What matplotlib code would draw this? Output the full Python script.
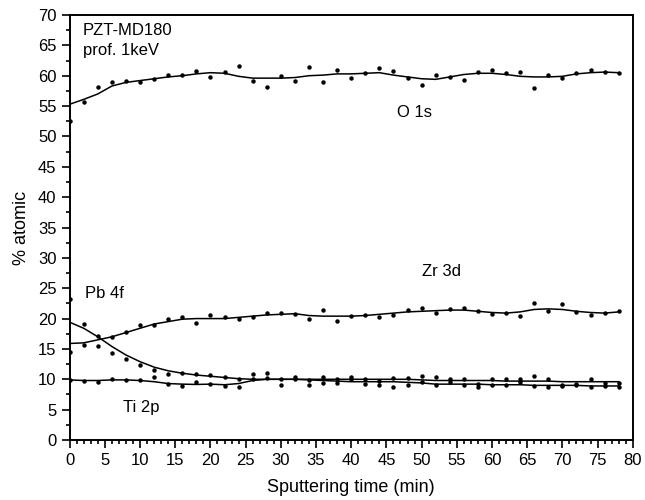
import numpy as np
import matplotlib
matplotlib.use("Agg")
import matplotlib.pyplot as plt
from matplotlib.ticker import MultipleLocator

plt.rcParams['font.family'] = ['Liberation Sans', 'DejaVu Sans']

# sputtering time (min), one measurement every 2 min
time_min = list(range(0, 80, 2))

# measured points
o1s_pts = [52.5, 55.7, 58.1, 59.0, 59.1, 58.9, 59.4, 60.1, 60.1, 60.7,
           59.8, 60.6, 61.6, 59.1, 58.2, 59.9, 59.1, 61.5, 59.0, 60.9,
           59.6, 60.4, 61.2, 60.8, 59.6, 58.5, 60.1, 59.8, 59.3, 60.6,
           60.9, 60.5, 60.6, 58.0, 60.1, 59.6, 60.4, 60.9, 60.6, 60.4]
zr3d_pts = [14.5, 15.6, 17.1, 17.0, 17.8, 18.9, 19.0, 19.9, 20.3, 19.2,
            20.6, 20.2, 19.9, 20.2, 21.0, 21.0, 20.8, 19.9, 21.4, 19.6,
            20.4, 20.6, 20.3, 20.6, 21.4, 21.7, 20.9, 21.6, 21.8, 21.2,
            20.8, 20.9, 20.4, 22.6, 21.3, 22.4, 21.1, 20.6, 21.0, 21.3]
pb4f_pts = [23.3, 19.1, 15.5, 14.4, 13.4, 12.3, 11.5, 10.9, 11.0, 10.8,
            10.7, 10.4, 10.0, 10.9, 11.1, 10.0, 10.3, 9.9, 10.3, 10.1,
            10.4, 10.0, 9.8, 10.2, 10.2, 10.5, 10.3, 10.0, 10.0, 9.3,
            10.0, 10.0, 10.0, 10.5, 10.0, 9.1, 9.2, 10.0, 9.4, 9.4]
ti2p_pts = [9.9, 9.8, 9.5, 10.0, 9.9, 9.9, 10.3, 9.3, 8.9, 9.6,
            9.2, 8.9, 8.7, 10.0, 10.2, 9.1, 10.0, 9.1, 9.4, 9.4,
            10.0, 9.2, 9.1, 8.7, 9.1, 9.6, 9.1, 9.5, 9.1, 8.7,
            9.1, 9.1, 9.5, 8.9, 8.8, 8.9, 9.0, 8.8, 8.9, 8.8]

# smoothed curves (at the same times)
o1s_fit = [55.3, 56.1, 57.0, 58.3, 58.9, 59.2, 59.5, 59.8, 60.0, 60.3,
           60.5, 60.4, 59.9, 59.6, 59.6, 59.6, 59.7, 60.0, 60.1, 60.3,
           60.3, 60.4, 60.5, 60.1, 59.8, 59.5, 59.4, 59.8, 60.2, 60.4,
           60.4, 60.2, 59.9, 59.8, 59.8, 59.9, 60.3, 60.5, 60.6, 60.5]
zr3d_fit = [15.9, 16.0, 16.5, 17.0, 17.7, 18.4, 19.1, 19.5, 19.9, 20.0,
            20.0, 20.0, 20.2, 20.4, 20.6, 20.7, 20.8, 20.5, 20.4, 20.4,
            20.4, 20.5, 20.7, 20.9, 21.1, 21.2, 21.3, 21.4, 21.4, 21.2,
            21.0, 20.9, 21.1, 21.5, 21.6, 21.5, 21.2, 21.0, 20.9, 21.1]
pb4f_fit = [19.4, 18.4, 17.0, 15.4, 14.0, 12.9, 12.0, 11.4, 11.0, 10.7,
            10.5, 10.3, 10.1, 10.0, 10.0, 10.0, 10.0, 10.0, 10.0, 10.0,
            10.0, 10.0, 10.0, 10.0, 10.0, 9.9, 9.8, 9.8, 9.8, 9.8,
            9.8, 9.7, 9.7, 9.7, 9.7, 9.6, 9.6, 9.6, 9.6, 9.6]
ti2p_fit = [9.9, 9.8, 9.8, 9.9, 9.9, 9.8, 9.6, 9.3, 9.2, 9.15,
            9.2, 9.1, 9.3, 9.8, 10.0, 10.0, 10.0, 9.9, 9.8, 9.7,
            9.6, 9.6, 9.6, 9.6, 9.5, 9.4, 9.2, 9.2, 9.2, 9.2,
            9.1, 9.1, 9.1, 9.0, 9.0, 9.0, 9.0, 8.9, 8.9, 8.9]

fig = plt.figure(figsize=(6.45, 5.0), dpi=100)
ax = fig.add_axes([0.108, 0.12, 0.873, 0.85])

for pts, fit in [(o1s_pts, o1s_fit), (zr3d_pts, zr3d_fit),
                 (pb4f_pts, pb4f_fit), (ti2p_pts, ti2p_fit)]:
    ax.plot(time_min, pts, 'o', color='black', markersize=3.2, markeredgewidth=0)
    ax.plot(time_min, fit, '-', color='black', linewidth=1.1)

ax.set_xlim(0, 80)
ax.set_ylim(0, 70)
ax.xaxis.set_major_locator(MultipleLocator(5))
ax.xaxis.set_minor_locator(MultipleLocator(1))
ax.yaxis.set_major_locator(MultipleLocator(5))
ax.yaxis.set_minor_locator(MultipleLocator(2.5))
ax.tick_params(which='both', direction='out', top=False, right=False,
               labelsize=12, width=1.2)
ax.tick_params(which='major', length=6)
ax.tick_params(which='minor', length=3)
for sp in ax.spines.values():
    sp.set_linewidth(1.4)

ax.set_xlabel('Sputtering time (min)', fontsize=13, labelpad=8)
ax.set_ylabel('% atomic', fontsize=13, labelpad=6)

ax.text(1.9, 66.7, 'PZT-MD180', fontsize=12, va='baseline')
ax.text(1.9, 63.4, 'prof. 1keV', fontsize=12, va='baseline')
ax.text(46.5, 53.9, 'O 1s', fontsize=12, va='center')
ax.text(50.1, 27.8, 'Zr 3d', fontsize=12, va='center')
ax.text(2.2, 24.2, 'Pb 4f', fontsize=12, va='center')
ax.text(7.6, 5.4, 'Ti 2p', fontsize=12, va='center')

fig.savefig('out.png', dpi=100)
